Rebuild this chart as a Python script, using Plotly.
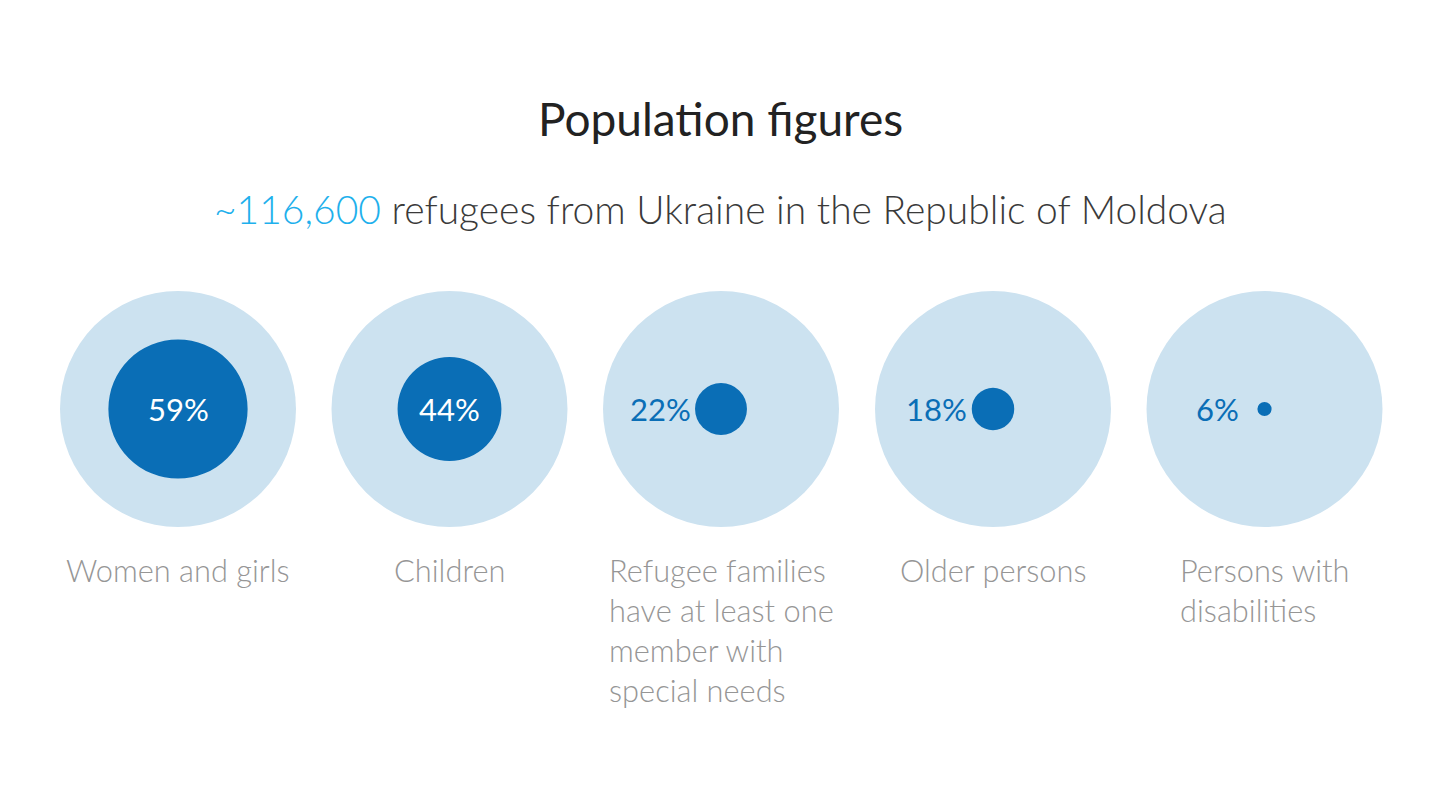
import plotly.graph_objects as go

categories = ["Women and girls", "Children",
              "Refugee families<br>have at least one<br>member with<br>special needs",
              "Older persons", "Persons with<br>disabilities"]
percents = [59, 44, 22, 18, 6]
total_refugees = "~116,600"

W, H = 1440, 812
OFF = 8  # page body margin offset
x_centers = [178, 449.5, 721, 993, 1264.5]
cy = 409
R = 118

OUTER = "#cce2f0"
INNER = "#0a6eb6"
ACCENT = "#1eb0ec"
DARK = "#222222"
GREY = "#969696"
FONT = "Lato"

fig = go.Figure()
fig.add_trace(go.Scatter(x=[OFF, W], y=[OFF, H], mode="markers",
                         marker=dict(opacity=0), hoverinfo="skip", showlegend=False))

shapes = []
annotations = []
for cx, p, cat in zip(x_centers, percents, categories):
    r = R * p / 100
    shapes.append(dict(type="circle", xref="x", yref="y", x0=cx - R, x1=cx + R,
                       y0=cy - R, y1=cy + R, fillcolor=OUTER, line=dict(width=0), layer="below"))
    shapes.append(dict(type="circle", xref="x", yref="y", x0=cx - r, x1=cx + r,
                       y0=cy - r, y1=cy + r, fillcolor=INNER, line=dict(width=0), layer="below"))
    if r > 40:
        annotations.append(dict(x=cx, y=cy, xref="x", yref="y", text=f"{p}%", showarrow=False,
                                xanchor="center", yanchor="middle",
                                font=dict(family=FONT, size=31, color="white", weight=400)))
    else:
        annotations.append(dict(x=cx - max(r + 2, 24), y=cy, xref="x", yref="y", text=f"{p}%",
                                showarrow=False, xanchor="right", yanchor="middle",
                                font=dict(family=FONT, size=31, color=INNER, weight=400)))
    annotations.append(dict(x=cx, y=550, xref="x", yref="y", text=cat, showarrow=False,
                            xanchor="center", yanchor="top", align="left",
                            font=dict(family=FONT, size=30.8, color=GREY, weight=300)))

annotations.append(dict(x=W / 2, y=118, xref="x", yref="y", text="Population figures",
                        showarrow=False, xanchor="center", yanchor="middle",
                        font=dict(family=FONT, size=46, color=DARK)))
annotations.append(dict(x=W / 2, y=209, xref="x", yref="y",
                        text=f"<span style='color:{ACCENT}'>{total_refugees}</span> refugees from Ukraine in the Republic of Moldova",
                        showarrow=False, xanchor="center", yanchor="middle",
                        font=dict(family=FONT, size=39, color="#3a3a3a", weight=300)))

fig.update_layout(
    width=W, height=H, margin=dict(l=0, r=0, t=0, b=0),
    paper_bgcolor="white", plot_bgcolor="white",
    xaxis=dict(range=[OFF, W + OFF], visible=False, fixedrange=True),
    yaxis=dict(range=[H + OFF, OFF], visible=False, fixedrange=True),
    shapes=shapes, annotations=annotations, showlegend=False,
)
fig.write_html("out.html", config={"displayModeBar": False})
